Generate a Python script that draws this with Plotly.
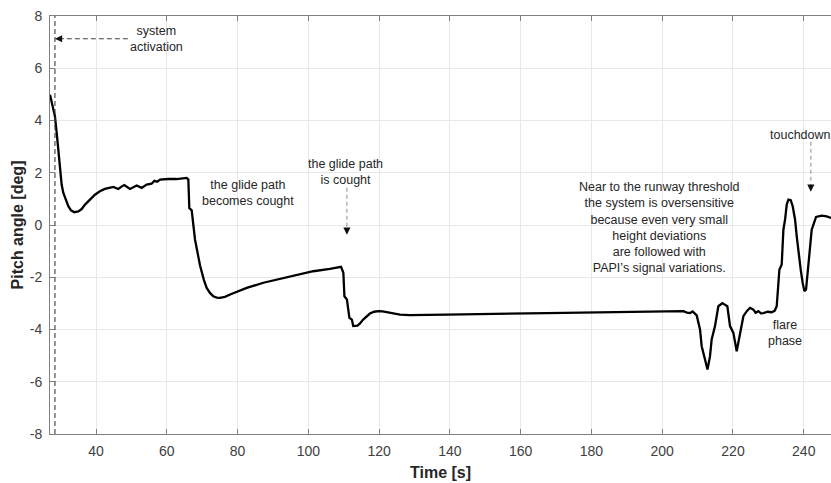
import plotly.graph_objects as go

# Pitch angle recorded during the automatic approach and landing
time_s = [27.0, 27.65, 28.4, 28.9, 29.35, 29.63, 29.83, 30.3, 30.77, 31.43, 32.18,
          32.93, 33.88, 35.0, 35.95, 36.9, 38.3, 39.7, 41.1, 42.5, 44.9,
          46.3, 47.2, 48.0, 49.6, 50.5, 51.5, 52.9, 54.3, 55.7, 56.5, 57.3, 58.1,
          60.4, 62.8, 65.62, 66.09, 66.37, 67.04, 67.98, 68.45, 68.9, 69.4, 69.86,
          70.5, 71.28, 72.2, 73.15, 74.1, 75.0, 76.45, 77.9, 80.2, 82.6, 87.3,
          92.0, 96.7, 101.4, 106.1, 108.0, 109.24, 109.9, 110.2, 110.9, 111.6,
          112.3, 112.7, 113.9, 114.6, 115.5, 116.5, 117.4, 118.6, 119.8, 121.0,
          122.2, 124.0, 125.9, 128.7, 131.6, 139.1, 167.4, 195.6, 203.0, 206.0,
          207.0, 207.87, 208.6, 209.75, 210.69, 211.16, 212.1, 212.8, 213.51,
          213.98, 214.92, 215.87, 217.0, 218.41, 219.17, 220.11, 221.05, 222.0,
          222.94, 223.9, 224.82, 225.77, 226.4, 227.18, 227.9, 228.59, 229.8,
          230.95, 231.8, 232.36, 232.83, 233.11, 233.77, 234.06, 234.25, 234.72,
          235.19, 235.66, 236.32, 236.88, 237.54, 238.01, 238.48, 239.14, 239.7,
          240.18, 240.65, 241.03, 241.31, 241.78, 242.25, 242.91, 243.48, 245.08,
          246.49, 247.72]

pitch_deg = [4.99, 4.6, 4.16, 3.52, 2.88, 2.37, 1.99, 1.54, 1.23, 0.95, 0.72,
             0.56, 0.49, 0.52, 0.61, 0.78, 0.97, 1.16, 1.29, 1.38, 1.46,
             1.38, 1.47, 1.53, 1.38, 1.45, 1.51, 1.42, 1.55, 1.58, 1.69, 1.66, 1.74,
             1.76, 1.76, 1.80, 1.74, 0.65, 0.56, -0.56, -0.84, -1.20, -1.55, -1.83,
             -2.11, -2.41, -2.60, -2.73, -2.78, -2.79, -2.75, -2.66, -2.53, -2.41, -2.21,
             -2.06, -1.90, -1.77, -1.68, -1.64, -1.60, -1.83, -2.73, -2.85, -3.55,
             -3.62, -3.87, -3.85, -3.77, -3.62, -3.49, -3.39, -3.32, -3.30, -3.31,
             -3.34, -3.39, -3.43, -3.45, -3.45, -3.43, -3.37, -3.31, -3.31, -3.30,
             -3.35, -3.37, -3.31, -3.46, -4.0, -4.64, -5.15, -5.53, -5.02,
             -4.38, -3.87, -3.11, -2.99, -3.11, -3.87, -4.13, -4.83, -4.13,
             -3.49, -3.30, -3.17, -3.24, -3.36, -3.30, -3.38, -3.37, -3.32,
             -3.34, -3.28, -3.11, -2.09, -1.71, -1.51, -0.81, -0.18, 0.21,
             0.78, 0.97, 0.95, 0.72, 0.21, -0.43, -1.07, -1.71, -2.22,
             -2.53, -2.47, -1.96, -1.45, -0.94, -0.18, 0.08, 0.31, 0.36,
             0.33, 0.27]

x_ticks = [40, 60, 80, 100, 120, 140, 160, 180, 200, 220, 240]
y_ticks = [-8, -6, -4, -2, 0, 2, 4, 6, 8]

activation_time = 28.4

FONT = "Liberation Sans, Arial, Helvetica, sans-serif"
TEXT_COLOR = "#262626"
AXIS_COLOR = "#808080"
GRID_COLOR = "#e8e8e8"

fig = go.Figure()

fig.add_trace(go.Scatter(
    x=time_s, y=pitch_deg, mode="lines",
    line=dict(color="#000000", width=2.3),
    showlegend=False, hoverinfo="skip",
))

# system activation marker: full-height dashed line and dashed arrow
fig.add_shape(type="line", xref="x", yref="y",
              x0=activation_time, x1=activation_time, y0=-8, y1=8,
              line=dict(color="#404040", width=1.1, dash="5px,3px"))
fig.add_shape(type="line", xref="x", yref="y",
              x0=49.0, x1=activation_time + 1.2, y0=7.13, y1=7.13,
              line=dict(color="#404040", width=1.1, dash="5px,3px"))

# dashed arrow shafts for the two vertical callouts
fig.add_shape(type="line", xref="x", yref="y",
              x0=110.9, x1=110.9, y0=1.43, y1=-0.2,
              line=dict(color="#9a9a9a", width=1.1, dash="4px,3px"))
fig.add_shape(type="line", xref="x", yref="y",
              x0=242.0, x1=242.0, y0=3.19, y1=1.45,
              line=dict(color="#9a9a9a", width=1.1, dash="4px,3px"))

annotations = []


def head(x, y, ax, ay):
    annotations.append(dict(
        x=x, y=y, xref="x", yref="y", text="", showarrow=True,
        arrowhead=2, arrowsize=1.2, arrowwidth=1.2, arrowcolor="#111111",
        ax=ax, ay=ay, axref="pixel", ayref="pixel", standoff=0,
    ))


head(activation_time, 7.13, 7, 0)
head(110.9, -0.37, 0, -7)
head(242.0, 1.27, 0, -7)


def label(x, y, text):
    annotations.append(dict(
        x=x, y=y, xref="x", yref="y", text=text, showarrow=False,
        xanchor="center", yanchor="middle", align="center",
        font=dict(family=FONT, size=12.5, color=TEXT_COLOR),
    ))


label(57.2, 7.12, "system<br>activation")
label(83.0, 1.22, "the glide path<br>becomes cought")
label(110.4, 2.04, "the glide path<br>is cought")
label(199.1, -0.1, "Near to the runway threshold<br>the system is oversensitive<br>"
                   "because even very small<br>height deviations<br>"
                   "are followed with<br>PAPI\u2019s signal variations.")
label(234.7, -4.14, "flare<br>phase")
label(238.95, 3.45, "touchdown")

fig.update_layout(
    width=831, height=483,
    margin=dict(l=50, r=0, t=16, b=49),
    paper_bgcolor="white", plot_bgcolor="white",
    font=dict(family=FONT, color=TEXT_COLOR),
    annotations=annotations,
    showlegend=False,
)

fig.update_xaxes(
    range=[27.0, 247.7], tickvals=x_ticks, ticktext=[str(v) for v in x_ticks],
    ticks="inside", ticklen=5, tickcolor=AXIS_COLOR, tickwidth=1,
    showline=True, linecolor=AXIS_COLOR, linewidth=1, mirror="ticks",
    showgrid=True, gridcolor=GRID_COLOR, gridwidth=1, zeroline=False,
    tickfont=dict(family=FONT, size=14, color="#404040"),
    ticklabelstandoff=4,
    title=dict(text="<b>Time [s]</b>", font=dict(family=FONT, size=16, color=TEXT_COLOR),
               standoff=9),
)
fig.update_yaxes(
    range=[-8, 8], tickvals=y_ticks, ticktext=[str(v) for v in y_ticks],
    ticks="inside", ticklen=5, tickcolor=AXIS_COLOR, tickwidth=1,
    showline=True, linecolor=AXIS_COLOR, linewidth=1, mirror=False,
    showgrid=True, gridcolor=GRID_COLOR, gridwidth=1, zeroline=False,
    tickfont=dict(family=FONT, size=14, color="#404040"),
    ticklabelstandoff=4,
    title=dict(text="<b>Pitch angle [deg]</b>", font=dict(family=FONT, size=16, color=TEXT_COLOR),
               standoff=2),
)

fig.write_html("out.html")
